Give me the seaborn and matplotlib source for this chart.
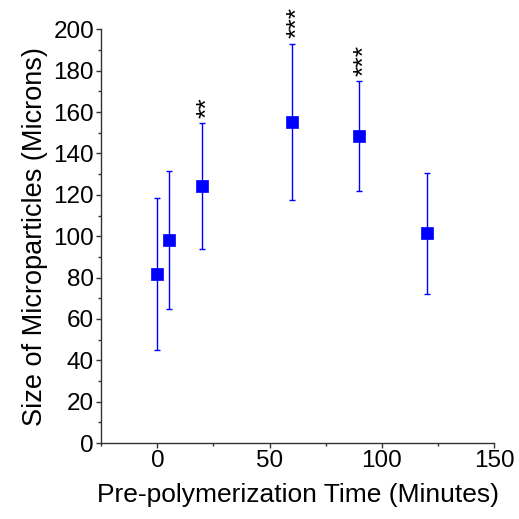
import matplotlib
matplotlib.use("Agg")
import matplotlib.pyplot as plt
import matplotlib.transforms as mtransforms
import seaborn as sns
import pandas as pd
from matplotlib.ticker import MultipleLocator

time_min = [0, 5, 20, 60, 90, 120]
size_um = [81.7, 98.1, 124.2, 155.4, 148.5, 101.4]
err_um = [36.8, 33.2, 30.4, 37.7, 26.5, 29.2]
sig_labels = ["", "", "**", "***", "***", ""]

df = pd.DataFrame({"time": time_min, "size": size_um, "err": err_um, "sig": sig_labels})

sns.set_theme(style="ticks")
plt.rcParams["font.family"] = ["Liberation Sans", "DejaVu Sans"]

fig = plt.figure(figsize=(5.19, 5.19), dpi=100)
ax = fig.add_axes([0.195, 0.1464, 0.757, 0.797])

ax.errorbar(df["time"], df["size"], yerr=df["err"], fmt="none",
            ecolor="#0000ff", elinewidth=1.0, capsize=2.2, capthick=1.0, zorder=2)
sns.scatterplot(data=df, x="time", y="size", marker="s", s=70, color="#0000ff",
                edgecolor="#0000ff", linewidth=0.5, ax=ax, zorder=3, legend=False)

star_tr = mtransforms.offset_copy(ax.transData, fig=fig, x=5, y=0, units="dots")
for t, v, e, s in zip(df["time"], df["size"], df["err"], df["sig"]):
    if s:
        ax.text(t, v + e + 2.5, s, rotation=90, ha="center", va="bottom",
                fontsize=19, color="black", transform=star_tr)

ax.set_xlim(-25, 150)
ax.set_ylim(0, 200)
ax.xaxis.set_major_locator(MultipleLocator(50))
ax.xaxis.set_minor_locator(MultipleLocator(25))
ax.yaxis.set_major_locator(MultipleLocator(20))
ax.yaxis.set_minor_locator(MultipleLocator(10))
ax.set_xticks([0, 50, 100, 150])

for side in ["top", "right"]:
    ax.spines[side].set_visible(False)
for side in ["left", "bottom"]:
    ax.spines[side].set_color("#333333")
    ax.spines[side].set_linewidth(1.0)

ax.tick_params(axis="both", which="major", direction="out", length=3.6, width=1.0,
               color="#333333", labelsize=17.5, labelcolor="black", pad=1.5)
ax.tick_params(axis="both", which="minor", direction="out", length=2.2, width=1.0,
               color="#333333")

ax.set_xlabel("Pre-polymerization Time (Minutes)", fontsize=19, color="black", labelpad=8)
ax.set_ylabel("Size of Microparticles (Microns)", fontsize=19.5, color="black", labelpad=4)

fig.savefig("out.png", dpi=100)
